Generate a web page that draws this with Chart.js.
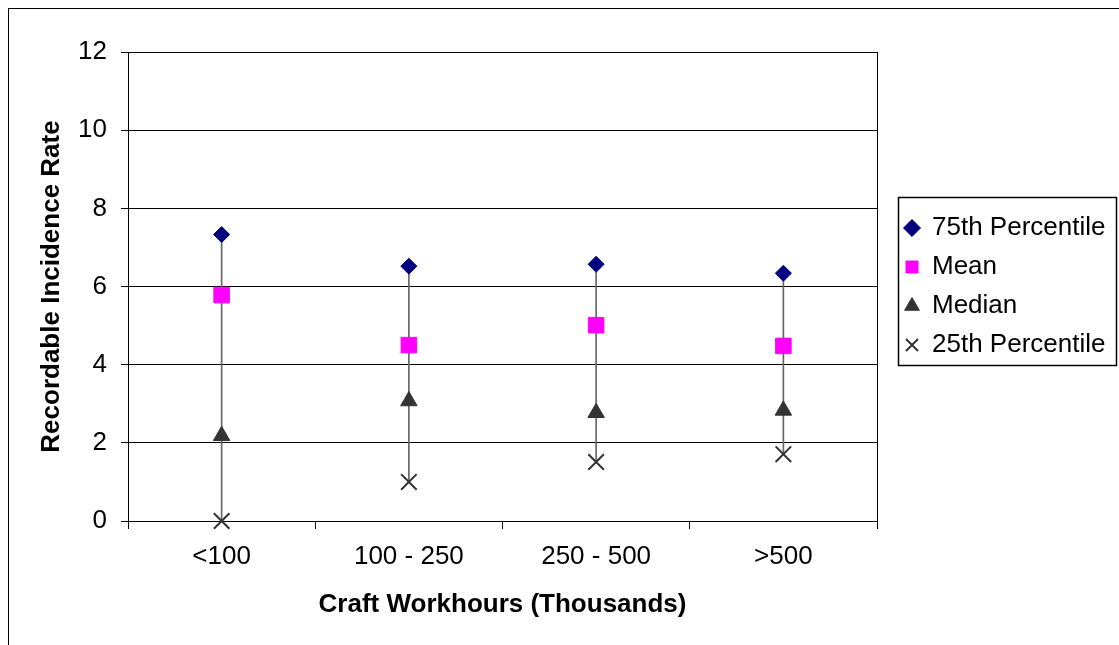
<!DOCTYPE html>
<html>
<head>
<meta charset="utf-8">
<script src="https://cdn.jsdelivr.net/npm/chart.js@4/dist/chart.umd.min.js"></script>
<style>
  html, body { margin: 0; padding: 0; background: #fff; }
  #wrap { width: 1119px; height: 645px; }
</style>
</head>
<body>
<div id="wrap"><canvas id="chart" width="1119" height="645"></canvas></div>
<script>
// ---- data ----
const categories = ['<100', '100 - 250', '250 - 500', '>500'];
const p75    = [7.33, 6.52, 6.57, 6.34];
const mean   = [5.78, 4.50, 5.01, 4.48];
const median = [2.18, 3.07, 2.77, 2.83];
const p25    = [0.00, 1.00, 1.51, 1.71];
const yTicks = [0, 2, 4, 6, 8, 10, 12];

const FONT = '"Liberation Sans", Arial, sans-serif';
Chart.defaults.font.family = FONT;
Chart.defaults.color = '#000';

// outer frame of the chart object (runs off the bottom/right like the source)
const framePlugin = {
  id: 'framePlugin',
  beforeDraw(chart) {
    const { ctx } = chart;
    ctx.save();
    ctx.fillStyle = '#fff';
    ctx.fillRect(0, 0, chart.width, chart.height);
    ctx.strokeStyle = '#000';
    ctx.lineWidth = 1;
    ctx.strokeRect(8.5, 8.5, chart.width + 20, chart.height + 20);
    ctx.restore();
  },
  afterDraw(chart) {
    // box round the legend entries
    const boxes = chart.legend && chart.legend.legendHitBoxes;
    if (!boxes || !boxes.length) return;
    const first = boxes[0];
    const last = boxes[boxes.length - 1];
    const { ctx } = chart;
    ctx.save();
    ctx.strokeStyle = '#000';
    ctx.lineWidth = 1.5;
    const l = Math.round(first.left - 7) + 0.5;
    const t = Math.round(first.top - 18) + 0.5;
    const r = Math.round(first.left + 211) + 0.5;
    const b = Math.round(last.top + last.height + 7) + 0.5;
    ctx.strokeRect(l, t, r - l, b - t);
    ctx.restore();
  }
};

const pointSet = (label, data, style, radius, fill, stroke, bw) => ({
  type: 'line',
  label,
  data,
  showLine: false,
  clip: false,
  pointStyle: style,
  pointRadius: radius,
  pointHoverRadius: radius,
  pointBackgroundColor: fill,
  pointBorderColor: stroke,
  pointBorderWidth: bw,
  backgroundColor: fill,
  borderColor: stroke,
  borderWidth: bw,
  order: 1
});

new Chart(document.getElementById('chart'), {
  data: {
    labels: categories,
    datasets: [
      {
        type: 'bar',
        label: 'range',
        data: categories.map((c, i) => [p25[i], p75[i]]),
        backgroundColor: '#666',
        borderWidth: 0,
        barThickness: 1,
        order: 10
      },
      pointSet('75th Percentile', p75, 'rectRot', 8, '#000080', '#000080', 1),
      pointSet('Mean', mean, 'rect', 11, '#ff00ff', '#ff00ff', 1),
      pointSet('Median', median, 'triangle', 9.5, '#333333', '#333333', 1),
      pointSet('25th Percentile', p25, 'crossRot', 11, '#333333', '#333333', 2)
    ]
  },
  options: {
    responsive: false,
    animation: false,
    events: [],
    layout: { padding: { left: 20, top: 52, right: 6, bottom: 0 } },
    scales: {
      x: {
        type: 'category',
        offset: true,
        grid: {
          offset: true,
          drawOnChartArea: true,
          color: ctx => (ctx.tick === undefined ? '#000' : 'rgba(0,0,0,0)'),
          tickColor: '#000',
          tickLength: 8
        },
        border: { color: '#000', width: 1 },
        ticks: { color: '#000', font: { size: 26 }, padding: 12 },
        title: {
          display: true,
          text: 'Craft Workhours (Thousands)',
          color: '#000',
          font: { size: 26, weight: 'bold' },
          padding: { top: 0, bottom: 25 }
        },
        afterFit(scale) { scale.height = 124; }
      },
      y: {
        min: 0,
        max: 12,
        afterBuildTicks(scale) { scale.ticks = yTicks.map(v => ({ value: v })); },
        grid: { color: '#000', tickColor: '#000', tickLength: 7, lineWidth: 1 },
        border: { color: '#000', width: 1 },
        ticks: { color: '#000', font: { size: 26 }, padding: 14 },
        title: {
          display: true,
          text: 'Recordable Incidence Rate',
          color: '#000',
          font: { size: 26, weight: 'bold' },
          padding: { top: 16, bottom: 0 }
        },
        afterFit(scale) { scale.width = 108; }
      },
      gap: {
        type: 'linear',
        position: 'right',
        display: true,
        grid: { display: false },
        border: { display: false },
        ticks: { display: false },
        afterFit(scale) { scale.width = 15; }
      }
    },
    plugins: {
      legend: {
        display: true,
        position: 'right',
        align: 'center',
        fullSize: false,
        maxWidth: 221,
        labels: {
          usePointStyle: true,
          boxWidth: 14,
          boxHeight: 12,
          padding: 13,
          color: '#000',
          font: { size: 26 },
          filter: item => item.datasetIndex > 0
        }
      },
      tooltip: { enabled: false }
    }
  },
  plugins: [framePlugin]
});
</script>
</body>
</html>
